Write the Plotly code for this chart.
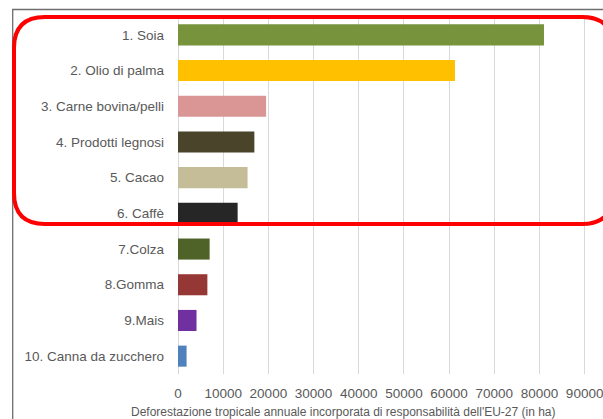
import plotly.graph_objects as go

# Embedded tropical deforestation attributed to EU-27 consumption, by commodity (ha/year)
commodities = [
    "1. Soia",
    "2. Olio di palma",
    "3. Carne bovina/pelli",
    "4. Prodotti legnosi",
    "5. Cacao",
    "6. Caffè",
    "7.Colza",
    "8.Gomma",
    "9.Mais",
    "10. Canna da zucchero",
]
hectares = [81000, 61300, 19500, 16900, 15400, 13200, 7000, 6500, 4100, 1900]
x_ticks = [0, 10000, 20000, 30000, 40000, 50000, 60000, 70000, 80000, 90000]

bar_colors = [
    "#77933C", "#FFC000", "#D99694", "#4A452A", "#C4BD97",
    "#262626", "#4F6228", "#953735", "#7030A0", "#4F81BD",
]

W, H = 603, 419
L, R, T, B = 178, 17, 17, 45
PW, PH = W - L - R, H - T - B


def px(x):
    return (x - L) / PW


def py(y):
    return (H - B - y) / PH


fig = go.Figure(
    go.Bar(
        x=hectares,
        y=commodities,
        orientation="h",
        marker=dict(color=bar_colors, line=dict(width=0)),
        hoverinfo="x+y",
    )
)

font = "Liberation Sans, Arial, sans-serif"
fig.update_layout(
    width=W,
    height=H,
    margin=dict(l=L, r=R, t=T, b=B, pad=0, autoexpand=False),
    paper_bgcolor="white",
    plot_bgcolor="white",
    showlegend=False,
    bargap=0.41,
    font=dict(family=font, color="#595959", size=13.5),
    xaxis=dict(
        range=[0, 90300],
        tickvals=x_ticks,
        ticktext=[str(v) for v in x_ticks],
        showgrid=True,
        gridcolor="#D9D9D9",
        gridwidth=1,
        zeroline=True,
        zerolinecolor="#D9D9D9",
        zerolinewidth=1,
        showline=False,
        ticks="",
        ticklabelstandoff=9,
        ticklabeloverflow="allow",
        automargin=False,
        tickfont=dict(size=13.5, color="#595959"),
        fixedrange=True,
    ),
    yaxis=dict(
        categoryorder="array",
        categoryarray=commodities,
        autorange="reversed",
        showgrid=False,
        zeroline=False,
        showline=False,
        ticks="",
        ticklabelstandoff=13,
        automargin=False,
        tickfont=dict(size=13.5, color="#595959"),
        fixedrange=True,
    ),
)

# Axis title
fig.add_annotation(
    text="Deforestazione tropicale annuale incorporata di responsabilità dell'EU-27 (in ha)",
    xref="paper", yref="paper",
    x=px(343), y=py(411.5),
    xanchor="center", yanchor="middle",
    showarrow=False,
    font=dict(family=font, size=12, color="#595959"),
)

# Chart frame (left and top edges)
fig.add_shape(
    type="path",
    xref="paper", yref="paper",
    path=f"M {px(12.7)} {py(425)} L {px(12.7)} {py(9.5)} L {px(610)} {py(9.5)}",
    line=dict(color="#6E6E6E", width=1.3),
    layer="above",
)

# Rounded red box around the top six commodities
x0, x1, y0, y1, r = 14, 613, 17, 224, 31
rb = (
    f"M {px(x0)} {py(y0 + r)} "
    f"Q {px(x0)} {py(y0)} {px(x0 + r)} {py(y0)} "
    f"L {px(x1 - r)} {py(y0)} "
    f"Q {px(x1)} {py(y0)} {px(x1)} {py(y0 + r)} "
    f"L {px(x1)} {py(y1 - r)} "
    f"Q {px(x1)} {py(y1)} {px(x1 - r)} {py(y1)} "
    f"L {px(x0 + r)} {py(y1)} "
    f"Q {px(x0)} {py(y1)} {px(x0)} {py(y1 - r)} Z"
)
fig.add_shape(
    type="path",
    xref="paper", yref="paper",
    path=rb,
    line=dict(color="#FF0000", width=4),
    fillcolor="rgba(0,0,0,0)",
    layer="above",
)

fig.write_html("out.html")
